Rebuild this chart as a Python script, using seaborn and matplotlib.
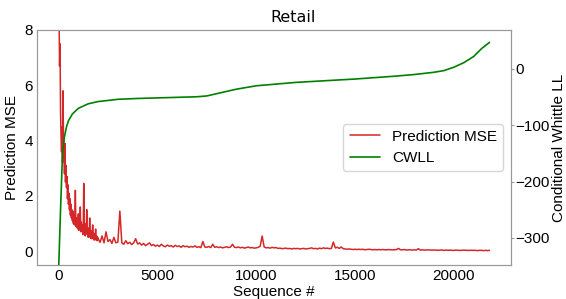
import numpy as np
import pandas as pd
import seaborn as sns
import matplotlib
matplotlib.use("Agg")
import matplotlib.pyplot as plt

# Prediction MSE, dense part (0..1975, every 25)
mse_early = [9.5, 8.5, 6.7, 7.5, 5.0, 4.2, 3.6, 4.5, 3.2, 5.8,
             4.0, 3.5, 2.8, 3.9, 2.5, 3.1, 2.3, 2.7, 1.9, 2.4,
             1.7, 2.1, 1.5, 1.9, 1.3, 1.7, 1.2, 1.5, 1.1, 1.45,
             1.0, 1.3, 0.95, 1.25, 2.2, 0.9, 1.2, 0.85, 1.1, 0.8,
             1.35, 0.75, 1.0, 0.85, 1.6, 0.7, 1.05, 0.75, 0.95, 0.6,
             1.0, 2.45, 0.7, 1.0, 0.55, 0.9, 0.65, 1.5, 0.6, 0.85,
             0.5, 0.8, 0.55, 1.2, 0.5, 0.75, 0.45, 0.7, 0.5, 0.95,
             0.45, 0.65, 0.4, 0.6, 0.45, 0.8, 0.4, 0.55, 0.38, 0.5]
# Prediction MSE, later part (2000..21800, every 100)
mse_late = [0.45, 0.32, 0.55, 0.3, 0.7, 0.35, 0.42, 0.28, 0.5, 0.3,
            0.33, 1.45, 0.3, 0.25, 0.38, 0.27, 0.32, 0.24, 0.3, 0.45,
            0.26, 0.3, 0.22, 0.28, 0.2, 0.25, 0.3, 0.2, 0.24, 0.18,
            0.22, 0.17, 0.25, 0.19, 0.16, 0.22, 0.18, 0.2, 0.15, 0.21,
            0.17, 0.19, 0.14, 0.2, 0.16, 0.18, 0.14, 0.17, 0.15, 0.19,
            0.14, 0.16, 0.13, 0.35, 0.15, 0.14, 0.17, 0.13, 0.25, 0.14,
            0.16, 0.13, 0.15, 0.12, 0.14, 0.16, 0.13, 0.15, 0.25, 0.14,
            0.13, 0.15, 0.12, 0.14, 0.11, 0.13, 0.15, 0.12, 0.13, 0.11,
            0.12, 0.14, 0.18, 0.55, 0.15, 0.12, 0.13, 0.11, 0.14, 0.12,
            0.13, 0.1, 0.11, 0.09, 0.1, 0.11, 0.09, 0.1, 0.08, 0.1,
            0.09, 0.1, 0.08, 0.09, 0.1, 0.08, 0.09, 0.1, 0.12, 0.09,
            0.1, 0.08, 0.11, 0.09, 0.12, 0.1, 0.11, 0.09, 0.1, 0.33,
            0.12, 0.14, 0.1, 0.15, 0.09, 0.08, 0.07, 0.08, 0.07, 0.06,
            0.07, 0.06, 0.07, 0.06, 0.07, 0.05, 0.06, 0.07, 0.06, 0.05,
            0.06, 0.05, 0.06, 0.05, 0.06, 0.05, 0.05, 0.06, 0.05, 0.05,
            0.05, 0.06, 0.1, 0.05, 0.05, 0.06, 0.04, 0.05, 0.05, 0.04,
            0.05, 0.04, 0.09, 0.04, 0.05, 0.04, 0.04, 0.05, 0.04, 0.04,
            0.04, 0.04, 0.03, 0.04, 0.04, 0.03, 0.04, 0.03, 0.04, 0.03,
            0.03, 0.04, 0.03, 0.03, 0.03, 0.04, 0.03, 0.03, 0.03, 0.03,
            0.03, 0.03, 0.02, 0.03, 0.03, 0.02, 0.03, 0.02, 0.03]
mse_seq = np.concatenate([np.arange(0, 2000, 25), np.arange(2000, 21801, 100)])

# Conditional Whittle LL
cwll_seq = [0, 100, 200, 300, 400, 500, 700, 1000, 1500, 2000, 3000, 4000,
            5000, 6000, 7000, 7500, 8000, 9000, 10000, 11000, 12000, 13000,
            14000, 15000, 16000, 17000, 18000, 19000, 19500, 20000, 20500,
            21000, 21400, 21800]
cwll = [-360, -250, -150, -120, -103, -92, -80, -70, -62, -58, -54, -52.5,
        -51.5, -50.5, -49.5, -48, -44, -36, -30, -27, -24, -22,
        -20, -18, -15.5, -13, -10, -6, -3, 3, 11,
        22, 36, 47]

df_mse = pd.DataFrame({"seq": mse_seq, "mse": mse_early + mse_late})
df_cwll = pd.DataFrame({"seq": cwll_seq, "cwll": cwll})

sns.set_style("white")
plt.rcParams["font.family"] = ["Liberation Sans", "DejaVu Sans"]
plt.rcParams["text.color"] = "black"
plt.rcParams["axes.labelcolor"] = "black"
plt.rcParams["xtick.color"] = "black"
plt.rcParams["ytick.color"] = "black"

fig = plt.figure(figsize=(5.66, 2.99), dpi=100)
ax = fig.add_axes([0.0654, 0.1137, 0.8375, 0.786])
sns.lineplot(data=df_mse, x="seq", y="mse", ax=ax, color="#d62728",
             linewidth=1.1, label="Prediction MSE", legend=False)
ax.set_ylim(-0.5, 8)
ax.set_yticks([0, 2, 4, 6, 8])
ax.set_xticks([0, 5000, 10000, 15000, 20000])
ax.set_xlabel("Sequence #", fontsize=11, labelpad=1)
ax.set_ylabel("Prediction MSE", fontsize=11, labelpad=4)
ax.tick_params(labelsize=11, length=0, pad=3)

ax2 = ax.twinx()
sns.lineplot(data=df_cwll, x="seq", y="cwll", ax=ax2, color="green",
             linewidth=1.2, label="CWLL", legend=False)
ax2.set_ylim(-348, 69)
ax2.set_yticks([-300, -200, -100, 0])
ax2.set_ylabel("Conditional Whittle LL", fontsize=11, labelpad=2)
ax2.tick_params(axis="y", labelsize=11, length=2, width=0.8, color="0.6", pad=1)

for a in (ax, ax2):
    for s in a.spines.values():
        s.set_color("0.6")

h1, l1 = ax.get_legend_handles_labels()
h2, l2 = ax2.get_legend_handles_labels()
ax2.legend(h1 + h2, l1 + l2, loc="center right", fontsize=11)

ax.set_title("Retail", fontsize=11.5, family="DejaVu Sans", x=0.54)

plt.savefig("out.png", dpi=100)
